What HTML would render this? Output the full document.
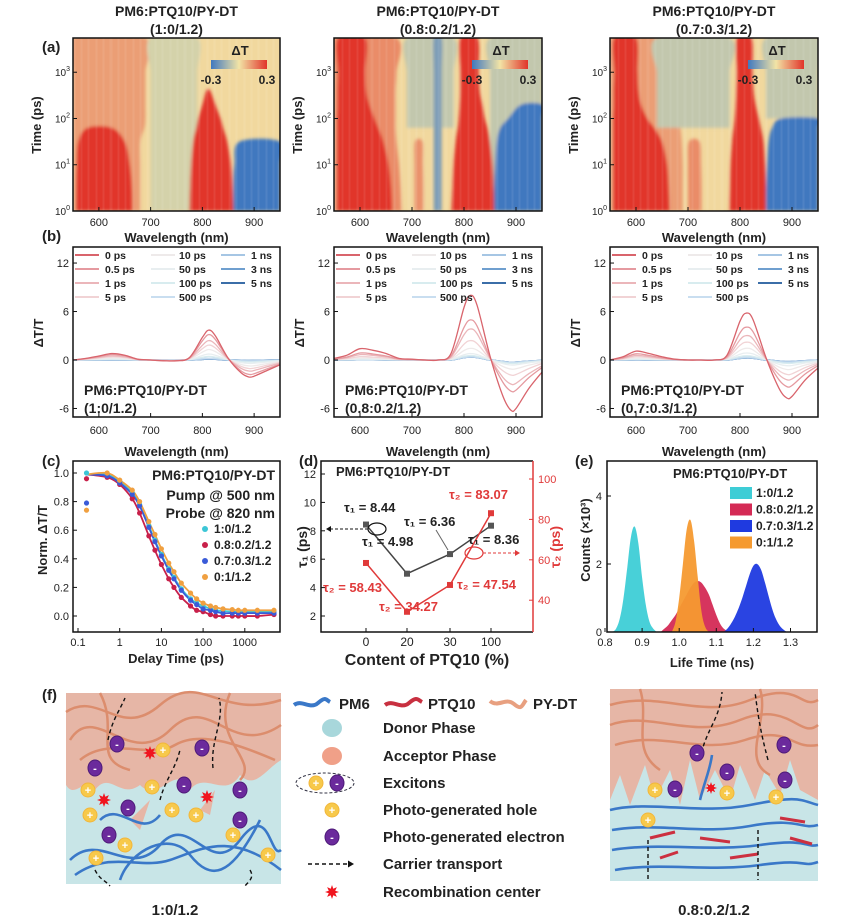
<!DOCTYPE html>
<html><head><meta charset="utf-8"><style>
html,body{margin:0;padding:0;background:#fff;}
svg{display:block;font-family:"Liberation Sans",sans-serif;}
</style></head>
<body>
<svg id="fig" width="844" height="923" viewBox="0 0 844 923" xmlns="http://www.w3.org/2000/svg">
<defs>
<filter id="blur" x="-5%" y="-5%" width="110%" height="110%"><feGaussianBlur stdDeviation="1.6"/></filter>
<linearGradient id="cbar" x1="0" x2="1" y1="0" y2="0"><stop offset="0" stop-color="#3f78bf"/><stop offset="0.5" stop-color="#f2e4a6"/><stop offset="1" stop-color="#e1342a"/></linearGradient>
<clipPath id="clipA0"><rect x="73" y="38" width="207" height="173"/></clipPath>
<clipPath id="clipA1"><rect x="334" y="38" width="208" height="173"/></clipPath>
<clipPath id="clipA2"><rect x="610" y="38" width="208" height="173"/></clipPath>
<clipPath id="clipB0"><rect x="73" y="247" width="207" height="170"/></clipPath>
<clipPath id="clipB1"><rect x="334" y="247" width="208" height="170"/></clipPath>
<clipPath id="clipB2"><rect x="610" y="247" width="208" height="170"/></clipPath>
</defs>
</svg>
<script>
// ---------- data ----------
const heatLogT = [0,0.5,1,1.5,1.8,2,2.3,2.6,3,3.74];
const heatP1 = [
 {v:0.12, L:[550,550,550,550,550,550,550,550,550,550], R:[680,680,680,680,688,690,690,690,690,690]},
 {v:-0.12,L:[738,738,740,742,745,748,750,null,null,null], R:[765,765,763,760,758,756,755,null,null,null]},
 {v:0.3, L:[556,556,557,560,578,null,null,null,null,null], R:[665,664,660,650,625,null,null,null,null,null]},
 {v:-0.05,L:[700,700,700,700,700,700,700,700,700,700], R:[790,790,790,790,790,790,790,790,790,790]},
 {v:0.3, L:[775,776,778,782,788,792,800,808,null,null], R:[860,858,855,848,840,835,825,815,null,null]},
 {v:-0.3,L:[860,860,862,872,null,null,null,null,null,null], R:[950,950,950,950,null,null,null,null,null,null]}
];
const heatP2 = [
 {v:0.15, L:[550,550,550,550,550,550,550,550,550,550], R:[680,678,675,670,668,668,668,668,670,670]},
 {v:-0.08,L:[null,null,null,null,690,690,690,690,690,690], R:[null,null,null,null,780,780,780,780,780,780]},
 {v:0.3, L:[556,556,556,556,556,556,557,557,558,558], R:[662,660,655,645,635,628,618,612,610,610]},
 {v:0.14, L:[705,705,705,706,null,null,null,null,null,null], R:[722,722,721,720,null,null,null,null,null,null]},
 {v:-0.2, L:[742,742,742,742,742,742,742,742,742,742], R:[757,757,757,757,757,757,757,757,757,757]},
 {v:-0.08,L:[850,850,850,850,850,850,850,850,850,850], R:[950,950,950,950,950,950,950,950,950,950]},
 {v:0.3, L:[776,778,780,784,788,790,792,793,793,793], R:[858,857,855,850,845,840,835,830,828,826]},
 {v:-0.3,L:[858,858,860,863,870,885,910,null,null,null], R:[950,950,950,950,950,950,950,null,null,null]}
];
const heatP3 = [
 {v:0.12, L:[550,550,550,550,550,550,550,550,550,550], R:[690,690,690,688,685,680,675,672,670,670]},
 {v:-0.08,L:[null,null,null,null,640,640,640,640,640,640], R:[null,null,null,null,780,780,780,780,780,780]},
 {v:0.3, L:[556,556,556,556,556,556,557,557,558,558], R:[665,663,660,650,635,622,610,605,603,600]},
 {v:0.15, L:[700,700,700,702,null,null,null,null,null,null], R:[726,726,725,722,null,null,null,null,null,null]},
 {v:-0.08,L:[null,null,null,null,null,850,850,850,850,850], R:[null,null,null,null,null,950,950,950,950,950]},
 {v:0.3, L:[780,781,782,785,788,790,792,793,794,794], R:[850,850,848,845,840,836,830,826,824,822]},
 {v:-0.3,L:[850,850,852,855,862,880,null,null,null,null], R:[950,950,950,950,950,950,null,null,null,null]}
];
const heatPanels = [heatP1, heatP2, heatP3];

const specWl = [550,575,600,625,650,675,700,725,750,775,800,812,825,850,875,890,900,925,950];
const spec0P1 = [0,0.2,0.5,0.8,0.6,0.1,0,-0.1,-0.1,0.3,2.8,3.7,3.0,0.2,-1.6,-2.1,-2.0,-1.3,-0.6];
const spec0P2 = [0.2,0.6,1.4,1.2,0.8,0.2,0.1,0,0,0.8,6.5,8.0,6.8,0.5,-4.5,-6.2,-6.0,-3.5,-1.5];
const spec0P3 = [0,0.4,1.1,0.8,0.4,0.1,0,0,0,0.6,4.8,5.8,5.0,0.3,-3.5,-4.7,-4.5,-2.5,-1.0];
const specBase = [spec0P1, spec0P2, spec0P3];
const delayLabels = ['0 ps','0.5 ps','1 ps','5 ps','10 ps','50 ps','100 ps','500 ps','1 ns','3 ns','5 ns'];
const delayScaleP1 = [1,0.85,0.65,0.5,0.35,0.2,0.12,0.06,0.05,0.04,0.04];
const delayScaleP2 = [1,0.62,0.48,0.3,0.18,0.1,0.07,0.05,0.05,0.05,0.05];
const delayScaleP3 = [1,0.7,0.52,0.38,0.25,0.15,0.09,0.06,0.05,0.05,0.05];
const delayScales = [delayScaleP1, delayScaleP2, delayScaleP3];
const delayColors = ['#d9646c','#e59aa0','#ebb6ba','#f1d3d5','#eeeaea','#e8eef0','#d8ecef','#c9def0','#a6c6e4','#6f9fcf','#3b6ea8'];

const kinDelay = [0.16,0.5,1,2,3,5,7,10,15,20,30,50,70,100,150,200,300,500,700,1000,2000,5000];
const kinS1 = [1.0,0.99,0.94,0.86,0.78,0.63,0.53,0.43,0.33,0.27,0.19,0.12,0.09,0.07,0.05,0.04,0.035,0.03,0.03,0.03,0.03,0.03];
const kinS2 = [0.96,0.97,0.92,0.82,0.72,0.56,0.46,0.36,0.26,0.2,0.13,0.07,0.04,0.03,0.01,0.0,0.0,0.0,0.0,0.0,0.0,0.01];
const kinS3 = [0.79,0.98,0.93,0.85,0.77,0.62,0.52,0.42,0.32,0.26,0.18,0.11,0.08,0.05,0.04,0.03,0.02,0.02,0.02,0.02,0.02,0.02];
const kinS4 = [0.74,1.0,0.95,0.88,0.8,0.66,0.57,0.47,0.37,0.31,0.23,0.16,0.12,0.09,0.07,0.06,0.05,0.045,0.04,0.04,0.04,0.04];
const kinSeries = [kinS1,kinS2,kinS3,kinS4];
const kinLabels = ['1:0/1.2','0.8:0.2/1.2','0.7:0.3/1.2','0:1/1.2'];
const kinColors = ['#3cc6d6','#c8204a','#3a5bd8','#f0a040'];

const ptqCats = ['0','20','30','100'];
const tau1 = [8.44,4.98,6.36,8.36];
const tau2 = [58.43,34.27,47.54,83.07];

const histStart = [0.82,0.95,0.98,1.12];
const histStep = 0.01;
const histCyan = [0,0.1,0.4,1.0,1.9,2.8,3.1,2.6,1.6,0.8,0.3,0.1,0];
const histRed = [0,0.1,0.2,0.35,0.5,0.7,0.9,1.1,1.3,1.45,1.5,1.45,1.3,1.1,0.8,0.5,0.25,0.1,0.03,0];
const histOrange = [0,0.3,1.0,2.0,3.0,3.3,2.7,1.6,0.6,0.15,0];
const histBlue = [0,0.1,0.25,0.45,0.7,1.0,1.35,1.7,1.95,2.0,1.85,1.5,1.1,0.7,0.4,0.2,0.08,0];
const histSeries = [histCyan,histRed,histOrange,histBlue];
const histColors = ['#3ecdd6','#d42a55','#f59a30','#1f3ae0'];
const histLegend = ['1:0/1.2','0.8:0.2/1.2','0.7:0.3/1.2','0:1/1.2'];
const histLegendColors = ['#3ecdd6','#d42a55','#1f3ae0','#f59a30'];

// ---------- helpers ----------
const NS='http://www.w3.org/2000/svg';
const svg=document.getElementById('fig');
function mk(tag,name,attrs,parent){
  const el=document.createElementNS(NS,tag);
  for(const k in attrs) el.setAttribute(k,attrs[k]);
  
  
  (parent||svg).appendChild(el); return el;
}
function txt(x,y,s,name,o={}){
  const t=mk('text',name,{x:x,y:y,'font-size':o.fs||12,'font-weight':o.fw||'bold','text-anchor':o.a||'start',fill:o.c||'#222'},o.p);
  if(o.rot) t.setAttribute('transform','rotate('+o.rot+' '+x+' '+y+')');
  t.textContent=s; return t;
}
function smooth(pts){
  if(pts.length<2) return '';
  let d='M'+pts[0][0].toFixed(1)+','+pts[0][1].toFixed(1);
  for(let i=0;i<pts.length-1;i++){
    const p0=pts[Math.max(0,i-1)],p1=pts[i],p2=pts[i+1],p3=pts[Math.min(pts.length-1,i+2)];
    const c1=[p1[0]+(p2[0]-p0[0])/6,p1[1]+(p2[1]-p0[1])/6];
    const c2=[p2[0]-(p3[0]-p1[0])/6,p2[1]-(p3[1]-p1[1])/6];
    d+=' C'+c1[0].toFixed(1)+','+c1[1].toFixed(1)+' '+c2[0].toFixed(1)+','+c2[1].toFixed(1)+' '+p2[0].toFixed(1)+','+p2[1].toFixed(1);
  }
  return d;
}
function cmap(v){
  const b=[63,120,191],m=[242,228,166],r=[225,52,42];
  const t=Math.max(-1,Math.min(1,v/0.3));
  const a=t<0?b:r, f=Math.abs(t);
  return 'rgb('+a.map((c,i)=>Math.round(m[i]+(c-m[i])*f)).join(',')+')';
}
function sup(x,y,base,exp,name,anchor){
  const t=txt(x,y,base,name,{fs:10,fw:'normal',a:anchor||'end'});
  const s=document.createElementNS(NS,'tspan');
  s.setAttribute('dy','-5'); s.setAttribute('font-size','7'); s.textContent=exp; t.appendChild(s);
  return t;
}

// ---------- panel (a) heatmaps ----------
const panelX=[[73,280],[334,542],[610,818]];
const titles2=['(1:0/1.2)','(0.8:0.2/1.2)','(0.7:0.3/1.2)'];
const heatTop=38, heatBot=211, logMax=3.74;
txt(42,52,'(a)','label-a',{fs:15});
txt(42,241,'(b)','label-b',{fs:15});
panelX.forEach((px,pi)=>{
  const x0=px[0],x1=px[1],cx=(x0+x1)/2;
  txt(cx,16,'PM6:PTQ10/PY-DT','panel-title-'+pi,{fs:14,a:'middle'});
  txt(cx,34,titles2[pi],'panel-subtitle-'+pi,{fs:14,a:'middle'});
  const xA=l=>x0+(l-550)/400*(x1-x0);
  const yA=lt=>heatBot-lt/logMax*(heatBot-heatTop);
  const g=mk('g','heatmap-'+pi,{'clip-path':'url(#clipA'+pi+')'});
  mk('rect','heatmap-background',{x:x0,y:heatTop,width:x1-x0,height:heatBot-heatTop,fill:cmap(0.02)},g);
  const fg=mk('g','heatmap-features',{filter:'url(#blur)'},g);
  heatPanels[pi].forEach((f,fi)=>{
    const left=[],right=[];
    heatLogT.forEach((lt,i)=>{ if(f.L[i]!==null&&f.R[i]!==null){ left.push([xA(f.L[i]),yA(lt)]); right.push([xA(f.R[i]),yA(lt)]);} });
    if(left.length<2) return;
    const pts=left.concat(right.reverse());
    mk('path','heatmap-region',{d:smooth(pts)+' Z',fill:cmap(f.v)},fg);
  });
  for(let k=0;k<60;k++){
    const xx=x0+((k*37)%207);
    mk('line','heatmap-streak',{x1:xx,y1:heatTop,x2:xx,y2:heatBot,stroke:'#fff',"stroke-opacity":0.08,"stroke-width":1},g);
  }
  mk('rect','heatmap-frame',{x:x0,y:heatTop,width:x1-x0,height:heatBot-heatTop,fill:'none',stroke:'#111','stroke-width':1.5});
  [600,700,800,900].forEach(l=>{
    mk('line','x-tick',{x1:xA(l),x2:xA(l),y1:heatBot,y2:heatBot-4,stroke:'#111'});
    txt(xA(l),226,String(l),'x-tick-label',{fs:11,fw:'normal',a:'middle'});
  });
  [0,1,2,3].forEach(e=>{
    mk('line','y-tick',{x1:x0,x2:x0+4,y1:yA(e),y2:yA(e),stroke:'#111'});
    sup(x0-3,yA(e)+4,'10',String(e),'y-tick-label');
  });
  txt(cx,242,'Wavelength (nm)','x-axis-title-a',{fs:13,a:'middle'});
  txt(x0-32,125,'Time (ps)','y-axis-title-a',{fs:13,a:'middle',rot:-90});
  mk('rect','colorbar',{x:x0+138,y:60,width:56,height:9,fill:'url(#cbar)'});
  txt(x0+167,55,'ΔT','colorbar-title',{fs:13,a:'middle'});
  txt(x0+138,84,'-0.3','colorbar-min',{fs:12,a:'middle'});
  txt(x0+194,84,'0.3','colorbar-max',{fs:12,a:'middle'});
});

// ---------- panel (b) spectra ----------
const bTop=247,bBot=417,bZero=360,bUnit=8.08;
panelX.forEach((px,pi)=>{
  const x0=px[0],x1=px[1],cx=(x0+x1)/2;
  const xB=l=>x0+(l-550)/400*(x1-x0);
  const yB=v=>bZero-v*bUnit;
  const g=mk('g','spectra-'+pi,{'clip-path':'url(#clipB'+pi+')'});
  for(let di=delayLabels.length-1;di>=0;di--){
    const pts=specWl.map((l,i)=>[xB(l),yB(specBase[pi][i]*delayScales[pi][di])]);
    mk('path','spectrum-'+delayLabels[di].replace(/[ .]/g,''),{d:smooth(pts),fill:'none',stroke:delayColors[di],'stroke-width':di>=8?2:1.3},g);
  }
  mk('rect','spectra-frame',{x:x0,y:bTop,width:x1-x0,height:bBot-bTop,fill:'none',stroke:'#111','stroke-width':1.5});
  [600,700,800,900].forEach(l=>{
    mk('line','x-tick',{x1:xB(l),x2:xB(l),y1:bBot,y2:bBot-4,stroke:'#111'});
    txt(xB(l),434,String(l),'x-tick-label',{fs:11,fw:'normal',a:'middle'});
  });
  [-6,0,6,12].forEach(v=>{
    mk('line','y-tick',{x1:x0,x2:x0+4,y1:yB(v),y2:yB(v),stroke:'#111'});
    txt(x0-4,yB(v)+4,String(v),'y-tick-label',{fs:11,fw:'normal',a:'end'});
  });
  txt(cx,456,'Wavelength (nm)','x-axis-title-b',{fs:13,a:'middle'});
  txt(x0-30,333,'ΔT/T','y-axis-title-b',{fs:13,a:'middle',rot:-90});
  const colX=[2,78,148], txX=[32,106,178];
  delayLabels.forEach((lab,i)=>{
    const c=Math.floor(i/4), r=i%4, yy=255+r*14;
    mk('line','legend-line',{x1:x0+colX[c],x2:x0+colX[c]+24,y1:yy,y2:yy,stroke:delayColors[i],'stroke-width':2});
    txt(x0+txX[c],yy+4,lab,'legend-entry',{fs:10.5});
  });
  txt(x0+11,395,'PM6:PTQ10/PY-DT','spectra-sample-name',{fs:14});
  txt(x0+11,413,titles2[pi],'spectra-sample-ratio',{fs:14});
});

// ---------- panel (c) kinetics ----------
(function(){
  const x0=73,x1=280,y0=461,y1=632;
  const xC=t=>78+(Math.log10(t)+1)*41.7;
  const yC=v=>616-v*143;
  txt(42,466,'(c)','label-c',{fs:15});
  kinSeries.forEach((s,si)=>{
    const fit=[[xC(kinDelay[0]),yC(0.99)]].concat(kinDelay.slice(1).map((t,i)=>[xC(t),yC(s[i+1])]));
    mk('path','fit-line-'+si,{d:smooth(fit),fill:'none',stroke:kinColors[si],'stroke-width':1.8});
  });
  kinSeries.forEach((s,si)=>{
    kinDelay.forEach((t,i)=>{
      mk('circle','kinetic-point',{cx:xC(t),cy:yC(s[i]),r:2.6,fill:kinColors[si]});
    });
  });
  mk('rect','kinetics-frame',{x:x0,y:y0,width:x1-x0,height:y1-y0,fill:'none',stroke:'#111','stroke-width':1.5});
  [0.1,1,10,100,1000].forEach(t=>{
    mk('line','x-tick',{x1:xC(t),x2:xC(t),y1:y1,y2:y1-4,stroke:'#111'});
    txt(xC(t),646,String(t),'x-tick-label',{fs:11,fw:'normal',a:'middle'});
  });
  [0,0.2,0.4,0.6,0.8,1.0].forEach(v=>{
    mk('line','y-tick',{x1:x0,x2:x0+4,y1:yC(v),y2:yC(v),stroke:'#111'});
    txt(x0-4,yC(v)+4,v.toFixed(1),'y-tick-label',{fs:11,fw:'normal',a:'end'});
  });
  txt(176,663,'Delay Time (ps)','x-axis-title-c',{fs:13,a:'middle'});
  txt(47,540,'Norm. ΔT/T','y-axis-title-c',{fs:13,a:'middle',rot:-90});
  txt(275,480,'PM6:PTQ10/PY-DT','kinetics-title',{fs:14,a:'end'});
  txt(275,500,'Pump @ 500 nm','pump-label',{fs:14,a:'end'});
  txt(275,518,'Probe @ 820 nm','probe-label',{fs:14,a:'end'});
  kinLabels.forEach((l,i)=>{
    const yy=529+i*16;
    mk('circle','legend-marker',{cx:205,cy:yy,r:3,fill:kinColors[i]});
    txt(214,yy+4,l,'legend-entry',{fs:12});
  });
})();

// ---------- panel (d) lifetimes ----------
(function(){
  const x0=321,x1=533,y0=461,y1=632;
  const catX=[366,407,450,491];
  const yL=v=>474+(12-v)*14.2;
  const yR=v=>479+(100-v)*2.02;
  txt(299,466,'(d)','label-d',{fs:15});
  mk('polyline','tau1-line',{points:tau1.map((v,i)=>catX[i]+','+yL(v)).join(' '),fill:'none',stroke:'#444','stroke-width':1.5});
  tau1.forEach((v,i)=>mk('rect','tau1-point',{x:catX[i]-3,y:yL(v)-3,width:6,height:6,fill:'#555'}));
  mk('polyline','tau2-line',{points:tau2.map((v,i)=>catX[i]+','+yR(v)).join(' '),fill:'none',stroke:'#e03a3a','stroke-width':1.5});
  tau2.forEach((v,i)=>mk('rect','tau2-point',{x:catX[i]-3,y:yR(v)-3,width:6,height:6,fill:'#e03a3a'}));
  mk('path','d-frame',{d:'M'+x1+','+y0+' H'+x0+' V'+y1+' H'+x1,fill:'none',stroke:'#111','stroke-width':1.5});
  mk('line','d-right-axis',{x1:x1,x2:x1,y1:y0,y2:y1,stroke:'#e03a3a','stroke-width':1.5});
  catX.forEach((x,i)=>{
    mk('line','x-tick',{x1:x,x2:x,y1:y1,y2:y1-4,stroke:'#111'});
    txt(x,646,ptqCats[i],'x-tick-label',{fs:12,fw:'normal',a:'middle'});
  });
  [2,4,6,8,10,12].forEach(v=>{
    mk('line','y-tick',{x1:x0,x2:x0+4,y1:yL(v),y2:yL(v),stroke:'#111'});
    txt(x0-5,yL(v)+4,String(v),'y-tick-label',{fs:11,fw:'normal',a:'end'});
  });
  [40,60,80,100].forEach(v=>{
    mk('line','y2-tick',{x1:x1,x2:x1-4,y1:yR(v),y2:yR(v),stroke:'#e03a3a'});
    txt(x1+5,yR(v)+4,String(v),'y2-tick-label',{fs:11,fw:'normal',c:'#e03a3a'});
  });
  txt(427,665,'Content of PTQ10 (%)','x-axis-title-d',{fs:16,a:'middle'});
  txt(307,547,'τ₁ (ps)','y-axis-title-d',{fs:14,a:'middle',rot:-90});
  txt(560,547,'τ₂ (ps)','y2-axis-title-d',{fs:14,a:'middle',rot:-90,c:'#e03a3a'});
  txt(336,476,'PM6:PTQ10/PY-DT','lifetime-title',{fs:13});
  const lbl1=[[344,512],[362,546],[404,526],[468,544]];
  const lbl2=[[449,499],[323,592],[379,611],[457,589]];
  const idx2=[3,0,1,2];
  tau1.forEach((v,i)=>txt(lbl1[i][0],lbl1[i][1],'τ₁ = '+v.toFixed(2),'tau1-label',{fs:13}));
  idx2.forEach((k,i)=>txt(lbl2[i][0],lbl2[i][1],'τ₂ = '+tau2[k].toFixed(2),'tau2-label',{fs:13,c:'#e03a3a'}));
  mk('ellipse','tau1-circle',{cx:377,cy:529,rx:9,ry:6,fill:'none',stroke:'#111','stroke-width':1.2});
  mk('line','tau1-arrow',{x1:368,y1:529,x2:330,y2:529,stroke:'#111','stroke-dasharray':'3,2'});
  mk('path','tau1-arrowhead',{d:'M326,529 l5,-3 v6 z',fill:'#111'});
  mk('line','tau1-leader',{x1:436,y1:530,x2:448,y2:550,stroke:'#666'});
  mk('ellipse','tau2-circle',{cx:474,cy:553,rx:9,ry:6,fill:'none',stroke:'#e03a3a','stroke-width':1.2});
  mk('line','tau2-arrow',{x1:483,y1:553,x2:515,y2:553,stroke:'#e03a3a','stroke-dasharray':'3,2'});
  mk('path','tau2-arrowhead',{d:'M520,553 l-5,-3 v6 z',fill:'#e03a3a'});
})();

// ---------- panel (e) histograms ----------
(function(){
  const x0=607,x1=817,y0=461,y1=632;
  const xE=v=>605+(v-0.8)*371;
  const yE=c=>632-c*34;
  txt(575,466,'(e)','label-e',{fs:15});
  histSeries.forEach((h,hi)=>{
    const pts=h.map((c,i)=>[xE(histStart[hi]+i*histStep),yE(c)]);
    const d=smooth(pts)+' L'+pts[pts.length-1][0]+','+yE(0)+' L'+pts[0][0]+','+yE(0)+' Z';
    mk('path','histogram-'+hi,{d:d,fill:histColors[hi],'fill-opacity':0.95});
  });
  mk('rect','e-frame',{x:x0,y:y0,width:x1-x0,height:y1-y0,fill:'none',stroke:'#111','stroke-width':1.5});
  [0.8,0.9,1.0,1.1,1.2,1.3].forEach(v=>{
    mk('line','x-tick',{x1:xE(v),x2:xE(v),y1:y1,y2:y1-4,stroke:'#111'});
    txt(xE(v),646,v.toFixed(1),'x-tick-label',{fs:11,fw:'normal',a:'middle'});
  });
  [0,2,4].forEach(v=>{
    mk('line','y-tick',{x1:x0,x2:x0+4,y1:yE(v),y2:yE(v),stroke:'#111'});
    txt(x0-5,yE(v)+4,String(v),'y-tick-label',{fs:11,fw:'normal',a:'end'});
  });
  txt(712,667,'Life Time (ns)','x-axis-title-e',{fs:13,a:'middle'});
  txt(590,540,'Counts (×10³)','y-axis-title-e',{fs:13,a:'middle',rot:-90});
  txt(673,478,'PM6:PTQ10/PY-DT','histogram-title',{fs:13});
  histLegend.forEach((l,i)=>{
    const yy=493+i*16.5;
    mk('rect','legend-swatch',{x:730,y:yy-6,width:22,height:12,fill:histLegendColors[i]});
    txt(756,yy+4,l,'legend-entry',{fs:12});
  });
})();

// ---------- panel (f) schematic ----------
(function(){
  txt(42,700,'(f)','label-f',{fs:15});
  function charge(x,y,type,p){
    const col=type==='h'?'#f7c94b':'#6b2a9c';
    mk('ellipse',type==='h'?'hole':'electron',{cx:x,cy:y,rx:7,ry:type==='h'?7:8,fill:col,stroke:type==='h'?'#f2b63a':'#4d1a78'},p);
    txt(x,y+4,type==='h'?'+':'-','charge-sign',{fs:11,a:'middle',c:'#fff',p:p});
  }
  function star(x,y,r,p){
    let pts=[];
    for(let i=0;i<16;i++){const a=i*Math.PI/8, rr=i%2?r*0.5:r; pts.push((x+rr*Math.cos(a)).toFixed(1)+','+(y+rr*Math.sin(a)).toFixed(1));}
    mk('polygon','recombination-star',{points:pts.join(' '),fill:'#f0141e'},p);
  }
  function darrow(d,p){ mk('path','carrier-arrow',{d:d,fill:'none',stroke:'#111','stroke-width':1.4,'stroke-dasharray':'4,3'},p); }
  const L=mk('g','morphology-1-0',{});
  mk('rect','donor-phase-bg',{x:66,y:693,width:215,height:191,fill:'#c8e5e7'},L);
  mk('path','acceptor-phase',{d:'M66,693 H281 V760 C265,770 255,790 240,775 C225,800 205,770 190,790 C175,760 160,805 140,785 C120,800 110,770 95,790 C85,775 75,800 66,785 Z',fill:'#e6b6a6'},L);
  mk('path','acceptor-spike',{d:'M130,820 L150,800 L140,830 Z M200,810 L215,790 L210,815 Z',fill:'#e6b6a6'},L);
  ['M66,712 C100,690 120,740 160,705 S220,720 281,700','M70,740 C95,700 130,770 170,730 S230,760 281,725','M80,760 C110,735 150,760 175,745 S240,745 275,760','M100,693 C120,730 90,760 130,770','M230,693 C210,740 260,760 240,780'].forEach(d=>mk('path','py-dt-chain',{d:d,fill:'none',stroke:'#dc8d6d','stroke-width':2.5},L));
  ['M70,860 C100,830 130,880 160,845 S210,880 240,840 S270,860 281,850','M75,875 C110,850 140,870 170,860 S230,830 281,870','M120,880 C130,850 170,830 190,855 S230,880 260,820','M100,820 C120,800 140,840 160,815'].forEach(d=>mk('path','pm6-chain',{d:d,fill:'none',stroke:'#3a78c8','stroke-width':2.6},L));
  darrow('M108,740 C112,720 120,710 125,698',L);
  darrow('M213,768 C210,740 225,720 219,698',L);
  darrow('M160,800 C165,780 175,770 180,750',L);
  darrow('M95,870 C100,880 105,880 110,886',L);
  darrow('M250,870 C255,878 248,882 245,886',L);
  star(150,753,7,L); star(104,800,7,L); star(207,797,7,L);
  [[117,744,'e'],[95,768,'e'],[88,790,'h'],[163,750,'h'],[202,748,'e'],[184,785,'e'],[172,810,'h'],[240,790,'e'],[240,820,'e'],[128,808,'e'],[90,815,'h'],[109,835,'e'],[125,845,'h'],[96,858,'h'],[196,815,'h'],[233,835,'h'],[268,855,'h'],[152,787,'h']].forEach(c=>charge(c[0],c[1],c[2],L));
  const R=mk('g','morphology-0-8',{});
  mk('rect','donor-phase-bg',{x:610,y:689,width:208,height:192,fill:'#c8e5e7'},R);
  mk('path','acceptor-phase',{d:'M610,689 H818 V800 L800,790 L790,760 L780,795 L765,770 L755,800 L740,765 L730,800 L715,770 L700,800 L690,760 L680,805 L670,770 L655,800 L645,765 L630,805 L620,775 L610,800 Z',fill:'#e6b6a6'},R);
  ['M610,705 C660,690 700,720 750,700 S800,710 818,700','M610,725 C650,710 690,740 740,720 S800,740 818,725','M615,745 C660,730 700,755 745,740 S790,750 818,745','M640,689 C650,720 630,750 660,770','M760,689 C770,720 740,760 770,775'].forEach(d=>mk('path','py-dt-chain',{d:d,fill:'none',stroke:'#dc8d6d','stroke-width':2.5},R));
  ['M610,810 C650,800 700,815 750,805 S800,800 818,805','M612,830 C660,822 700,835 750,826 S800,830 818,825','M612,850 C660,842 710,852 760,845 S805,848 818,845','M615,870 C660,862 710,872 760,865 S800,868 818,862','M700,800 C705,780 710,770 712,755'].forEach(d=>mk('path','pm6-chain',{d:d,fill:'none',stroke:'#3a78c8','stroke-width':2.6},R));
  ['M650,838 l25,-6','M700,838 l30,4','M730,858 l28,-4','M780,818 l25,4','M660,858 l18,-6','M790,838 l22,6'].forEach(d=>mk('path','ptq10-chain',{d:d,fill:'none',stroke:'#cc3040','stroke-width':3},R));
  darrow('M700,760 C705,730 720,720 722,692',R);
  darrow('M768,760 C760,730 758,715 755,692',R);
  darrow('M648,840 V880',R);
  darrow('M758,830 V880',R);
  star(711,788,6,R);
  [[697,753,'e'],[675,789,'e'],[655,790,'h'],[727,772,'e'],[727,793,'h'],[784,745,'e'],[785,780,'e'],[776,797,'h'],[648,820,'h']].forEach(c=>charge(c[0],c[1],c[2],R));
  const G=mk('g','schematic-legend',{});
  mk('path','pm6-icon',{d:'M294,705 C302,699 310,710 318,703 S326,700 330,702',fill:'none',stroke:'#3a78c8','stroke-width':4},G);
  txt(339,709,'PM6','legend-pm6',{fs:15,p:G});
  mk('path','ptq10-icon',{d:'M385,705 C393,699 401,710 409,703 S418,700 422,702',fill:'none',stroke:'#c83040','stroke-width':4},G);
  txt(428,709,'PTQ10','legend-ptq10',{fs:15,p:G});
  mk('path','py-dt-icon',{d:'M490,701 C498,708 506,697 514,704 S522,705 526,700',fill:'none',stroke:'#e8a080','stroke-width':4},G);
  txt(533,709,'PY-DT','legend-py-dt',{fs:15,p:G});
  mk('ellipse','donor-icon',{cx:332,cy:728,rx:10,ry:9,fill:'#a8d7db'},G);
  txt(383,733,'Donor Phase','legend-donor',{fs:15,p:G});
  mk('ellipse','acceptor-icon',{cx:332,cy:756,rx:10,ry:9,fill:'#f0a088'},G);
  txt(383,761,'Acceptor Phase','legend-acceptor',{fs:15,p:G});
  mk('ellipse','exciton-icon',{cx:325,cy:783,rx:29,ry:10,fill:'none',stroke:'#334','stroke-dasharray':'3,2'},G);
  charge(316,783,'h',G); charge(337,783,'e',G);
  txt(383,788,'Excitons','legend-excitons',{fs:15,p:G});
  charge(332,810,'h',G);
  txt(383,815,'Photo-generated hole','legend-hole',{fs:15,p:G});
  charge(332,837,'e',G);
  txt(383,842,'Photo-generated electron','legend-electron',{fs:15,p:G});
  mk('line','transport-icon',{x1:308,x2:348,y1:864,y2:864,stroke:'#111','stroke-width':1.6,'stroke-dasharray':'4,3'},G);
  mk('path','transport-icon-head',{d:'M354,864 l-6,-3.5 v7 z',fill:'#111'},G);
  txt(383,869,'Carrier transport','legend-transport',{fs:15,p:G});
  star(332,892,7,G);
  txt(383,897,'Recombination center','legend-recombination',{fs:15,p:G});
  txt(175,915,'1:0/1.2','schematic-label-left',{fs:15,a:'middle'});
  txt(714,915,'0.8:0.2/1.2','schematic-label-right',{fs:15,a:'middle'});
})();
</script>
</body></html>
